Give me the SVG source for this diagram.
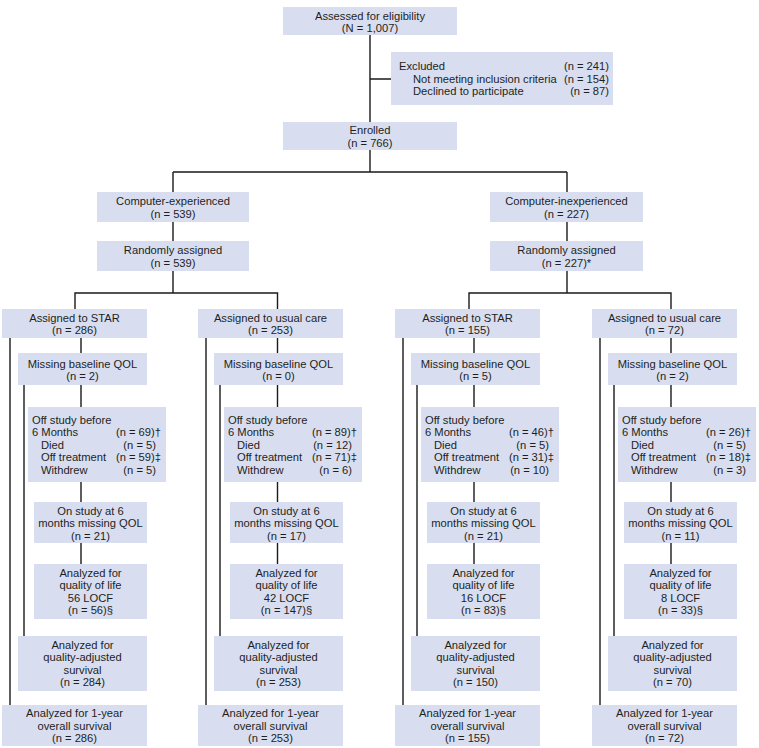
<svg xmlns="http://www.w3.org/2000/svg" width="759" height="748" viewBox="0 0 759 748">
<style>
.b{fill:#d8deef}
text{font-family:"Liberation Sans",Arial,Helvetica,sans-serif;font-size:11.2px;fill:#1e1e1e}
.c{text-anchor:middle}
.e{text-anchor:end}
.ln{stroke:#1a1a1a;stroke-width:1.4;fill:none}
</style>
<rect width="759" height="748" fill="#ffffff"/>
<g id="connectors" class="ln">
<path d="M370 35V122M370 79H391M370 150V172M173 172H567M173 172V192M567 172V192M173 222V241M567 222V241M173 271V293M567 271V293M75 309V293H277.5V309M469 309V293H671V309"/>
<path d="M81 338V353M81 385V407M81 482V502M81 543V564M10 338V705M24 385V636"/>
<path d="M277.5 338V353M277.5 385V407M277.5 482V502M277.5 543V564M206 338V705M220 385V636"/>
<path d="M474 338V353M474 385V407M474 482V502M474 543V564M403 338V705M417 385V636"/>
<path d="M671 338V353M671 385V407M671 482V502M671 543V564M600 338V705M614 385V636"/>
</g>
<g id="assessed"><rect class="b" x="283" y="7" width="174" height="28"/><text class="c" x="370" y="19.5">Assessed for eligibility</text><text class="c" x="370" y="31.5">(N = 1,007)</text></g>
<g id="excluded"><rect class="b" x="391" y="52" width="222" height="53"/>
<text x="399" y="70">Excluded</text><text class="e" x="609" y="70">(n = 241)</text>
<text x="413" y="82.5">Not meeting inclusion criteria</text><text class="e" x="609" y="82.5">(n = 154)</text>
<text x="413" y="95">Declined to participate</text><text class="e" x="609" y="95">(n = 87)</text></g>
<g id="enrolled"><rect class="b" x="283" y="122" width="174" height="28"/><text class="c" x="370" y="134">Enrolled</text><text class="c" x="370" y="146.5">(n = 766)</text></g>
<g id="comp-exp"><rect class="b" x="97" y="192" width="152" height="30"/><text class="c" x="173" y="205">Computer-experienced</text><text class="c" x="173" y="217.5">(n = 539)</text></g>
<g id="rand-exp"><rect class="b" x="97" y="241" width="152" height="30"/><text class="c" x="173" y="254">Randomly assigned</text><text class="c" x="173" y="266.5">(n = 539)</text></g>
<g id="comp-inexp"><rect class="b" x="490" y="192" width="153" height="30"/><text class="c" x="566.5" y="205">Computer-inexperienced</text><text class="c" x="566.5" y="217.5">(n = 227)</text></g>
<g id="rand-inexp"><rect class="b" x="490" y="241" width="153" height="30"/><text class="c" x="566.5" y="254">Randomly assigned</text><text class="c" x="566.5" y="266.5">(n = 227)*</text></g>

<g id="c1-assigned"><rect class="b" x="2" y="309" width="145" height="29"/><text class="c" x="74.5" y="321.5">Assigned to STAR</text><text class="c" x="74.5" y="334">(n = 286)</text></g>
<g id="c1-missing"><rect class="b" x="18" y="353" width="129" height="32"/><text class="c" x="82.5" y="367.5">Missing baseline QOL</text><text class="c" x="82.5" y="380">(n = 2)</text></g>
<g id="c1-off"><rect class="b" x="28" y="407" width="138" height="75"/>
<text x="32" y="423.5">Off study before</text>
<text x="32" y="436">6 Months</text><text class="e" x="161" y="436">(n = 69)†</text>
<text x="41" y="448.5">Died</text><text class="e" x="156" y="448.5">(n = 5)</text>
<text x="41" y="461">Off treatment</text><text class="e" x="161" y="461">(n = 59)‡</text>
<text x="41" y="473.5">Withdrew</text><text class="e" x="156" y="473.5">(n = 5)</text></g>
<g id="c1-onstudy"><rect class="b" x="34" y="502" width="113" height="41"/><text class="c" x="90.5" y="514.5">On study at 6</text><text class="c" x="90.5" y="527">months missing QOL</text><text class="c" x="90.5" y="539.5">(n = 21)</text></g>
<g id="c1-qol"><rect class="b" x="34" y="564" width="113" height="55"/><text class="c" x="90.5" y="576.5">Analyzed for</text><text class="c" x="90.5" y="589">quality of life</text><text class="c" x="90.5" y="601.5">56 LOCF</text><text class="c" x="90.5" y="614">(n = 56)§</text></g>
<g id="c1-qas"><rect class="b" x="18" y="636" width="129" height="55"/><text class="c" x="82.5" y="648.5">Analyzed for</text><text class="c" x="82.5" y="661">quality-adjusted</text><text class="c" x="82.5" y="673.5">survival</text><text class="c" x="82.5" y="686">(n = 284)</text></g>
<g id="c1-os"><rect class="b" x="2" y="705" width="145" height="41"/><text class="c" x="74.5" y="717">Analyzed for 1-year</text><text class="c" x="74.5" y="729.5">overall survival</text><text class="c" x="74.5" y="742">(n = 286)</text></g>

<g id="c2-assigned"><rect class="b" x="198" y="309" width="145" height="29"/><text class="c" x="270.5" y="321.5">Assigned to usual care</text><text class="c" x="270.5" y="334">(n = 253)</text></g>
<g id="c2-missing"><rect class="b" x="214" y="353" width="129" height="32"/><text class="c" x="278.5" y="367.5">Missing baseline QOL</text><text class="c" x="278.5" y="380">(n = 0)</text></g>
<g id="c2-off"><rect class="b" x="224" y="407" width="138" height="75"/>
<text x="228" y="423.5">Off study before</text>
<text x="228" y="436">6 Months</text><text class="e" x="357" y="436">(n = 89)†</text>
<text x="237" y="448.5">Died</text><text class="e" x="352" y="448.5">(n = 12)</text>
<text x="237" y="461">Off treatment</text><text class="e" x="357" y="461">(n = 71)‡</text>
<text x="237" y="473.5">Withdrew</text><text class="e" x="352" y="473.5">(n = 6)</text></g>
<g id="c2-onstudy"><rect class="b" x="230" y="502" width="113" height="41"/><text class="c" x="286.5" y="514.5">On study at 6</text><text class="c" x="286.5" y="527">months missing QOL</text><text class="c" x="286.5" y="539.5">(n = 17)</text></g>
<g id="c2-qol"><rect class="b" x="230" y="564" width="113" height="55"/><text class="c" x="286.5" y="576.5">Analyzed for</text><text class="c" x="286.5" y="589">quality of life</text><text class="c" x="286.5" y="601.5">42 LOCF</text><text class="c" x="286.5" y="614">(n = 147)§</text></g>
<g id="c2-qas"><rect class="b" x="214" y="636" width="129" height="55"/><text class="c" x="278.5" y="648.5">Analyzed for</text><text class="c" x="278.5" y="661">quality-adjusted</text><text class="c" x="278.5" y="673.5">survival</text><text class="c" x="278.5" y="686">(n = 253)</text></g>
<g id="c2-os"><rect class="b" x="198" y="705" width="145" height="41"/><text class="c" x="270.5" y="717">Analyzed for 1-year</text><text class="c" x="270.5" y="729.5">overall survival</text><text class="c" x="270.5" y="742">(n = 253)</text></g>

<g id="c3-assigned"><rect class="b" x="395" y="309" width="145" height="29"/><text class="c" x="467.5" y="321.5">Assigned to STAR</text><text class="c" x="467.5" y="334">(n = 155)</text></g>
<g id="c3-missing"><rect class="b" x="411" y="353" width="129" height="32"/><text class="c" x="475.5" y="367.5">Missing baseline QOL</text><text class="c" x="475.5" y="380">(n = 5)</text></g>
<g id="c3-off"><rect class="b" x="421" y="407" width="138" height="75"/>
<text x="425" y="423.5">Off study before</text>
<text x="425" y="436">6 Months</text><text class="e" x="554" y="436">(n = 46)†</text>
<text x="434" y="448.5">Died</text><text class="e" x="549" y="448.5">(n = 5)</text>
<text x="434" y="461">Off treatment</text><text class="e" x="554" y="461">(n = 31)‡</text>
<text x="434" y="473.5">Withdrew</text><text class="e" x="549" y="473.5">(n = 10)</text></g>
<g id="c3-onstudy"><rect class="b" x="427" y="502" width="113" height="41"/><text class="c" x="483.5" y="514.5">On study at 6</text><text class="c" x="483.5" y="527">months missing QOL</text><text class="c" x="483.5" y="539.5">(n = 21)</text></g>
<g id="c3-qol"><rect class="b" x="427" y="564" width="113" height="55"/><text class="c" x="483.5" y="576.5">Analyzed for</text><text class="c" x="483.5" y="589">quality of life</text><text class="c" x="483.5" y="601.5">16 LOCF</text><text class="c" x="483.5" y="614">(n = 83)§</text></g>
<g id="c3-qas"><rect class="b" x="411" y="636" width="129" height="55"/><text class="c" x="475.5" y="648.5">Analyzed for</text><text class="c" x="475.5" y="661">quality-adjusted</text><text class="c" x="475.5" y="673.5">survival</text><text class="c" x="475.5" y="686">(n = 150)</text></g>
<g id="c3-os"><rect class="b" x="395" y="705" width="145" height="41"/><text class="c" x="467.5" y="717">Analyzed for 1-year</text><text class="c" x="467.5" y="729.5">overall survival</text><text class="c" x="467.5" y="742">(n = 155)</text></g>

<g id="c4-assigned"><rect class="b" x="592" y="309" width="145" height="29"/><text class="c" x="664.5" y="321.5">Assigned to usual care</text><text class="c" x="664.5" y="334">(n = 72)</text></g>
<g id="c4-missing"><rect class="b" x="608" y="353" width="129" height="32"/><text class="c" x="672.5" y="367.5">Missing baseline QOL</text><text class="c" x="672.5" y="380">(n = 2)</text></g>
<g id="c4-off"><rect class="b" x="618" y="407" width="138" height="75"/>
<text x="622" y="423.5">Off study before</text>
<text x="622" y="436">6 Months</text><text class="e" x="751" y="436">(n = 26)†</text>
<text x="631" y="448.5">Died</text><text class="e" x="746" y="448.5">(n = 5)</text>
<text x="631" y="461">Off treatment</text><text class="e" x="751" y="461">(n = 18)‡</text>
<text x="631" y="473.5">Withdrew</text><text class="e" x="746" y="473.5">(n = 3)</text></g>
<g id="c4-onstudy"><rect class="b" x="624" y="502" width="113" height="41"/><text class="c" x="680.5" y="514.5">On study at 6</text><text class="c" x="680.5" y="527">months missing QOL</text><text class="c" x="680.5" y="539.5">(n = 11)</text></g>
<g id="c4-qol"><rect class="b" x="624" y="564" width="113" height="55"/><text class="c" x="680.5" y="576.5">Analyzed for</text><text class="c" x="680.5" y="589">quality of life</text><text class="c" x="680.5" y="601.5">8 LOCF</text><text class="c" x="680.5" y="614">(n = 33)§</text></g>
<g id="c4-qas"><rect class="b" x="608" y="636" width="129" height="55"/><text class="c" x="672.5" y="648.5">Analyzed for</text><text class="c" x="672.5" y="661">quality-adjusted</text><text class="c" x="672.5" y="673.5">survival</text><text class="c" x="672.5" y="686">(n = 70)</text></g>
<g id="c4-os"><rect class="b" x="592" y="705" width="145" height="41"/><text class="c" x="664.5" y="717">Analyzed for 1-year</text><text class="c" x="664.5" y="729.5">overall survival</text><text class="c" x="664.5" y="742">(n = 72)</text></g>
</svg>
